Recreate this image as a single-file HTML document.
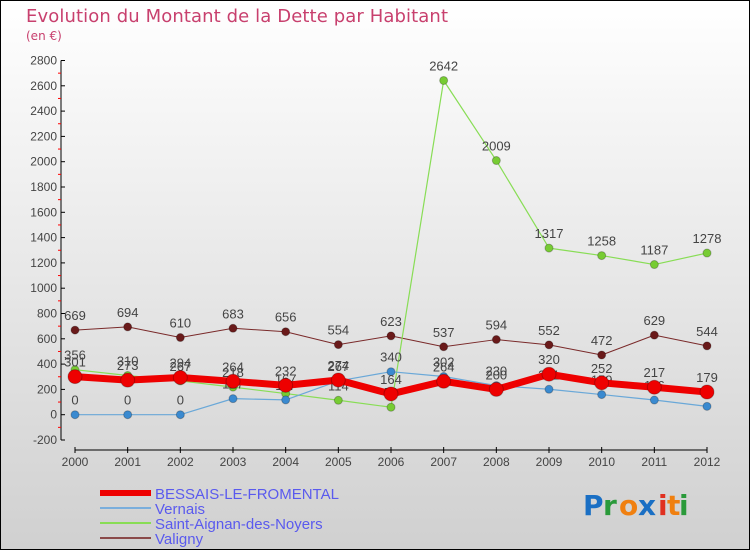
<!DOCTYPE html>
<html><head><meta charset="utf-8"><style>
html,body{margin:0;padding:0}
body{width:750px;height:550px;overflow:hidden;font-family:"DejaVu Sans","Liberation Sans",sans-serif}
</style></head><body>
<svg id="chart" width="750" height="550" xmlns="http://www.w3.org/2000/svg">
<defs><linearGradient id="bg" x1="0" y1="0" x2="0" y2="1"><stop offset="0" stop-color="#ffffff"/><stop offset="1" stop-color="#d0d0d0"/></linearGradient></defs>
<rect x="0.5" y="0.5" width="749" height="549" fill="url(#bg)" stroke="#000"/>
<text x="26" y="22" font-size="18" fill="#c8406e" font-family="DejaVu Sans" textLength="422">Evolution du Montant de la Dette par Habitant</text>
<text x="26" y="40" font-size="12" fill="#c8406e">(en €)</text>
<g id="axes"></g>
<g id="series"></g>
<g id="legend"></g>
<g font-size="28" font-family="DejaVu Sans" font-weight="bold">
<text x="583" y="515" fill="#1a6fc4">P</text><text x="603" y="515" fill="#2a9a3a">r</text><text x="619" y="515" fill="#f08010">o</text><text x="638" y="515" fill="#1a6fc4">x</text><text x="658" y="515" fill="#e03020">i</text><text x="667" y="515" fill="#f08010">t</text><text x="679" y="515" fill="#2a9a3a">i</text>
</g>
</svg>
<script>
const years=[2000,2001,2002,2003,2004,2005,2006,2007,2008,2009,2010,2011,2012];
const bessais=[301,273,294,264,232,274,164,264,200,320,252,217,179];
const vernais=[0,0,0,127,117,267,340,302,230,201,159,116,66];
const saintAignan=[356,310,267,218,167,114,59,2642,2009,1317,1258,1187,1278];
const valigny=[669,694,610,683,656,554,623,537,594,552,472,629,544];
const yTicks=[-200,0,200,400,600,800,1000,1200,1400,1600,1800,2000,2200,2400,2600,2800];
const NS="http://www.w3.org/2000/svg";
const X=i=>75+i*(707-75)/(years.length-1);
const Y=v=>414.7-v*(354.2/2800);
function el(t,a,p){const e=document.createElementNS(NS,t);for(const k in a)e.setAttribute(k,a[k]);p.appendChild(e);return e;}
const ax=document.getElementById('axes');
let yl=el('line',{x1:61,y1:Y(2800),x2:61,y2:Y(-200),stroke:'#000'},ax);


yTicks.forEach(v=>{
 el('line',{x1:61,x2:65,y1:Y(v),y2:Y(v),stroke:'#000'},ax);
 if(v<2800){el('line',{x1:58,x2:61,y1:Y(v+100),y2:Y(v+100),stroke:'#f00'},ax);}
 const t=el('text',{x:57,y:Y(v)+4,'text-anchor':'end','font-size':12,fill:'#444','font-family':'Liberation Sans'},ax);
 t.textContent=v;
 
 
});
let xl=el('line',{x1:75,y1:450,x2:707,y2:450,stroke:'#000'},ax);


years.forEach((y,i)=>{
 el('line',{x1:X(i),x2:X(i),y1:447,y2:453,stroke:'#000'},ax);
 const t=el('text',{x:X(i),y:466,'text-anchor':'middle','font-size':12,fill:'#444','font-family':'Liberation Sans'},ax);
 t.textContent=y;
 
 
});
const sg=document.getElementById('series');
function draw(data,color,w,r,name,dot){
 const g=el('g',{},sg);
 
 
 el('polyline',{points:data.map((v,i)=>X(i)+','+Y(v)).join(' '),fill:'none',stroke:color,'stroke-width':w,'stroke-linejoin':'round'},g);
 data.forEach((v,i)=>{
  const c=el('circle',{cx:X(i),cy:Y(v),r:r,fill:dot,stroke:'rgba(0,0,0,0.25)'},g);
  
  
  const t=el('text',{x:X(i),y:Y(v)-10,'text-anchor':'middle','font-size':13,fill:'#444','font-family':'Liberation Sans'},g);
  t.textContent=v;
  
  
 });
}
draw(valigny,'#7a2a2a',1,4,'series-valigny','#6a1a1a');
draw(saintAignan,'#88dd55',1.2,4,'series-saint-aignan','#77cc33');
draw(vernais,'#6aa8d8',1.2,4,'series-vernais','#3a8ad0');
draw(bessais,'#ee0000',7,7,'series-bessais','#ee0000');
const lg=document.getElementById('legend');
const items=[['BESSAIS-LE-FROMENTAL','#ee0000',6],['Vernais','#7aaedc',2],['Saint-Aignan-des-Noyers','#88dd55',2],['Valigny','#8a4a4a',2]];
items.forEach((it,i)=>{
 const y=493+i*15;
 const g=el('g',{},lg);
 
 
 el('line',{x1:100,x2:151,y1:y,y2:y,stroke:it[1],'stroke-width':it[2]},g);
 const t=el('text',{x:155,y:y+6,'font-size':15,fill:'#5a5aee','font-family':'Liberation Sans'},g);
 t.textContent=it[0];
});
</script>
</body></html>
